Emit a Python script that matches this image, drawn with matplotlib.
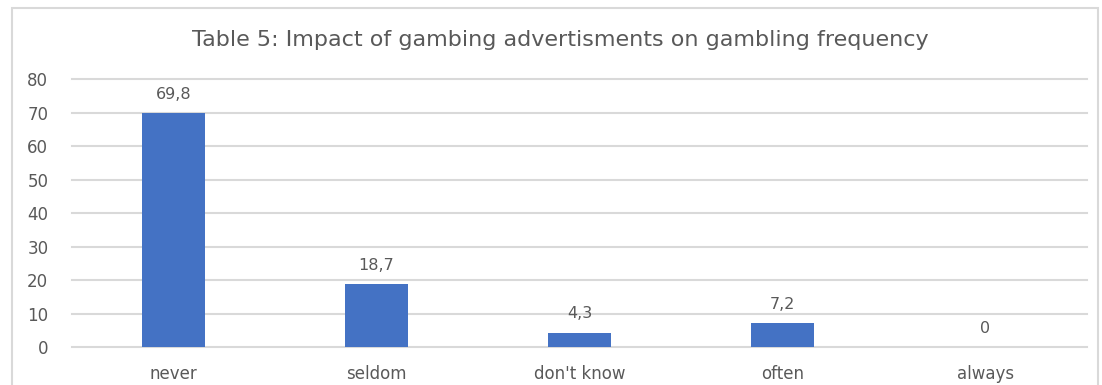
import matplotlib.pyplot as plt
from matplotlib.patches import Rectangle

categories = ["never", "seldom", "don't know", "often", "always"]
values = [69.8, 18.7, 4.3, 7.2, 0]
yticks = [0, 10, 20, 30, 40, 50, 60, 70, 80]
title = "Table 5: Impact of gambing advertisments on gambling frequency"

BAR = "#4472C4"
GRID = "#d9d9d9"
TXT = "#595959"

plt.rcParams['font.family'] = ['DejaVu Sans']

fig = plt.figure(figsize=(11.02, 3.85), dpi=100)
ax = fig.add_axes([0.0653, 0.0987, 0.9211, 0.6961])

# chart frame
fig.patches.append(Rectangle((12 / 1102, -0.05), 1086 / 1102, 1 - 8 / 385 + 0.05,
                             transform=fig.transFigure, fill=False,
                             edgecolor=GRID, linewidth=1.5))

x = range(len(categories))
bars = ax.bar(x, values, width=0.31, color=BAR, zorder=3)

for b, v in zip(bars, values):
    lbl = "0" if v == 0 else str(v).replace(".", ",")
    ax.annotate(lbl, (b.get_x() + b.get_width() / 2, v), xytext=(0, 8),
                textcoords="offset points", ha="center", va="bottom",
                fontsize=11.5, color=TXT)

ax.set_xlim(-0.5, len(categories) - 0.5)
ax.set_ylim(0, 80)
ax.set_yticks(yticks)
ax.set_xticks(list(x))
ax.set_xticklabels(categories)
ax.tick_params(axis="y", length=0, pad=17, labelsize=12, labelcolor=TXT)
ax.tick_params(axis="x", length=0, pad=13, labelsize=12, labelcolor=TXT)
ax.yaxis.grid(True, color=GRID, linewidth=1.5, zorder=0)
for gl in ax.get_ygridlines():
    gl.set_clip_on(False)
for s in ax.spines.values():
    s.set_visible(False)

fig.text(0.508, 1 - 40 / 385, title, ha="center", va="center",
         fontsize=16, color=TXT)

fig.savefig("out.png", dpi=100)
